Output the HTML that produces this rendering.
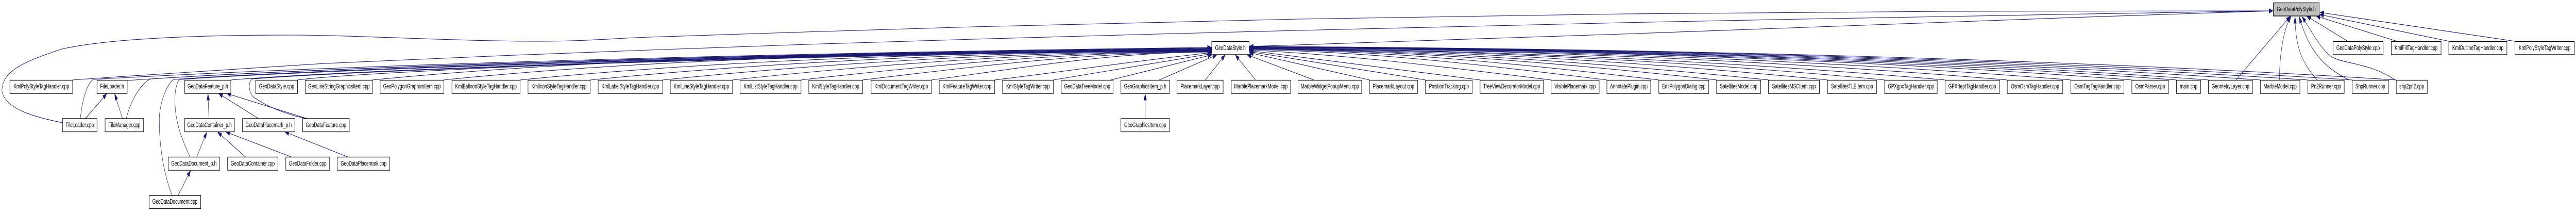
<!DOCTYPE html>
<html><head><meta charset="utf-8"><title>GeoDataPolyStyle.h include graph</title>
<style>
html,body{margin:0;padding:0;background:#fff;width:100%;height:100%;overflow:hidden}
svg{display:block;width:100vw;height:100vh}
text{font-family:"Liberation Sans",Arial,sans-serif;font-size:13.33px;text-anchor:middle;fill:#000}
</style></head><body>
<svg xmlns="http://www.w3.org/2000/svg" viewBox="0 0 7940 411" preserveAspectRatio="none">
<defs><marker id="a" viewBox="0 0 14 10" refX="13.5" refY="5" markerWidth="14" markerHeight="10" markerUnits="userSpaceOnUse" orient="auto"><path d="M0,0.2L13.5,5L0,9.8z" fill="#191970"/></marker></defs>
<g fill="none" stroke="#191970" stroke-width="1.1" style="marker-end:url(#a)">
<!-- to GeoDataPolyStyle.h, long edges -->
<path d="M192.6,238C120,228 19,215 6,177C6,140 60,122 191,95C300,80 500,68 893,68C1100,68 1400,80 1670,80C1800,80 1900,74 2000,72C2300,65 2700,58 3000,52C3400,44 3700,41 4000,37C4400,32 4700,29 5000,27C5400,24 5700,23 6000,22C6400,21 6800,21 7007,21"/>
<path d="M224,155C500,143 800,130 1000,123S1700,104 2000,97S2700,81 3000,76S3700,63 4000,59S4700,48 5000,44S5700,35 6000,32S6800,22 7007,21"/>
<path d="M3850,90C3900,89 3950,88 4000,87S4700,72 5000,66S5700,49 6000,43S6800,23 7007,21"/>
<!-- far-left to GeoDataStyle.h -->
<path d="M247.5,230C254,195 265,165 287,154C1000,128 2300,103 3735,92"/>
<path d="M392,156C1000,130 2300,104 3735,93"/>
<path d="M389,230C405,190 440,158 465,153C1000,131 2300,105 3735,94"/>
<path d="M530,379C510,345 491,295 491,233C491,195 520,158 536,154C1000,133 2300,106 3735,95"/>
<path d="M585.5,304.5C565,275 539,240 539,193C539,170 548,156 555,154C1000,135 2300,107 3735,95"/>
<path d="M712,155C1100,135 2300,108 3735,96"/>
<path d="M947,230C900,225 830,210 781,188C768,180 762,160 778,153C1100,137 2300,109 3735,97"/>
<path d="M917,155C1100,140 2300,103 3735,97"/>
<path d="M1148,155C1924,107 2830,101 3735,99"/>
<path d="M1368,155C2078,109 2906,102 3735,98"/>
<path d="M1603,155C2243,115 2989,101 3735,97"/>
<path d="M1819,155C2394,119 3064,100 3735,98"/>
<path d="M2043,155C2551,122 3143,100 3735,99"/>
<path d="M2258,155C2701,125 3218,100 3735,100"/>
<path d="M2469,155C2849,128 3292,100 3735,100"/>
<path d="M2659,155C2982,131 3358,100 3735,101"/>
<path d="M2871,155C3130,134 3433,100 3735,101"/>
<path d="M3066,155C3266,140 3500,118 3735,102"/>
<path d="M3247,155L3735,104"/>
<path d="M3424,155L3737,106"/>
<path d="M3573,155L3752,106"/>
<path d="M3715,155L3777,106"/>
<!-- right to GeoDataStyle.h -->
<path d="M3870,155L3807,106"/>
<path d="M4050,155L3843,106"/>
<path d="M4221,155L3850,102"/>
<path d="M4393.5,155L3850,100"/>
<path d="M4562,155L3850,98"/>
<path d="M4781,155C4500,134 4200,108 3850,97"/>
<path d="M4953,155C4620,130 4250,100 3850,96"/>
<path d="M5113,155C4734,127 4292,98 3850,95"/>
<path d="M5291,155C4859,125 4354,97 3850,95"/>
<path d="M5451,155C4971,124 4410,97 3850,94"/>
<path d="M5633,155C5098,122 4474,96 3850,94"/>
<path d="M5809,155C5221,120 4536,96 3850,93"/>
<path d="M5995.5,155C5352,120 4601,96 3850,93"/>
<path d="M6187,155C5486,118 4668,95 3850,92"/>
<path d="M6383,155C5623,117 4736,95 3850,92"/>
<path d="M6571,155C5755,116 4802,95 3850,91"/>
<path d="M6708.5,155C5851,116 4850,95 3850,91"/>
<path d="M6807,155C5920,114 4885,95 3850,91"/>
<path d="M6967,155C6032,115 4941,95 3850,90"/>
<path d="M7113.5,155C6134,115 4993,94 3850,90"/>
<path d="M7250,155C6230,114 5040,94 3850,90"/>
<path d="M7386,155C6325,113 5088,94 3850,90"/>
<!-- short edges -->
<path d="M263,230L330,181"/>
<path d="M377.5,230L353,181"/>
<path d="M644,230L641,181"/>
<path d="M797,230L673,181"/>
<path d="M947,230L698,181"/>
<path d="M606,304.5L638,255.5"/>
<path d="M757,304.5L670,255.5"/>
<path d="M899,304.5L695,255.5"/>
<path d="M1073,304.5L877,255.5"/>
<path d="M548.5,379L588,330"/>
<path d="M3529.8,230L3529.8,181"/>
<!-- into GeoDataPolyStyle.h from below -->
<path d="M6892,155L7060,31"/>
<path d="M7026,155C7026,110 7036,60 7062,31"/>
<path d="M7142,155C7105,128 7074,100 7074,32"/>
<path d="M7240,155C7180,135 7120,110 7087,32"/>
<path d="M7383,155C7300,120 7220,125 7182,108C7150,92 7120,55 7095,32"/>
<path d="M7236.6,80L7109,31"/>
<path d="M7388,80L7138,31"/>
<path d="M7549,80L7149,28"/>
<path d="M7752,80L7150,24"/>
</g>
<g fill="#fff" stroke="#000" stroke-width="1.33">
<rect x="7007" y="5.5" width="141.5" height="25.5" fill="#bfbfbf"/>
<rect x="3735" y="80.5" width="115" height="25.5"/>
<rect x="7191" y="80.5" width="154.6" height="25.5"/>
<rect x="7370.5" y="80.5" width="153.5" height="25.5"/>
<rect x="7548" y="80.5" width="179" height="25.5"/>
<rect x="7752" y="80.5" width="183" height="25.5"/>
<rect x="30.6" y="155.5" width="193.3" height="25.5"/>
<rect x="299" y="155.5" width="93" height="25.5"/>
<rect x="569.5" y="155.5" width="142" height="25.5"/>
<rect x="788" y="155.5" width="129" height="25.5"/>
<rect x="941" y="155.5" width="207" height="25.5"/>
<rect x="1171.6" y="155.5" width="196.4" height="25.5"/>
<rect x="1393" y="155.5" width="210" height="25.5"/>
<rect x="1627.5" y="155.5" width="191.5" height="25.5"/>
<rect x="1843.7" y="155.5" width="199.3" height="25.5"/>
<rect x="2066" y="155.5" width="192" height="25.5"/>
<rect x="2281" y="155.5" width="188" height="25.5"/>
<rect x="2493" y="155.5" width="166" height="25.5"/>
<rect x="2685" y="155.5" width="186" height="25.5"/>
<rect x="2895" y="155.5" width="171" height="25.5"/>
<rect x="3090" y="155.5" width="157" height="25.5"/>
<rect x="3271" y="155.5" width="160" height="25.5"/>
<rect x="3455" y="155.5" width="149.6" height="25.5"/>
<rect x="3628" y="155.5" width="142" height="25.5"/>
<rect x="3795" y="155.5" width="183" height="25.5"/>
<rect x="4001" y="155.5" width="196" height="25.5"/>
<rect x="4221" y="155.5" width="148" height="25.5"/>
<rect x="4393.5" y="155.5" width="144.5" height="25.5"/>
<rect x="4562" y="155.5" width="195" height="25.5"/>
<rect x="4781" y="155.5" width="148" height="25.5"/>
<rect x="4953" y="155.5" width="135" height="25.5"/>
<rect x="5113" y="155.5" width="154" height="25.5"/>
<rect x="5291" y="155.5" width="136" height="25.5"/>
<rect x="5451" y="155.5" width="157" height="25.5"/>
<rect x="5633" y="155.5" width="151" height="25.5"/>
<rect x="5809" y="155.5" width="162" height="25.5"/>
<rect x="5995.5" y="155.5" width="167.5" height="25.5"/>
<rect x="6187" y="155.5" width="171" height="25.5"/>
<rect x="6383" y="155.5" width="163.6" height="25.5"/>
<rect x="6571" y="155.5" width="113" height="25.5"/>
<rect x="6708.5" y="155.5" width="74.5" height="25.5"/>
<rect x="6807" y="155.5" width="136" height="25.5"/>
<rect x="6967" y="155.5" width="122" height="25.5"/>
<rect x="7113.5" y="155.5" width="112" height="25.5"/>
<rect x="7250" y="155.5" width="112" height="25.5"/>
<rect x="7386" y="155.5" width="95.5" height="25.5"/>
<rect x="192.6" y="230" width="106.4" height="25.5"/>
<rect x="324" y="230" width="118.6" height="25.5"/>
<rect x="569" y="230" width="153.6" height="25.5"/>
<rect x="747.4" y="230" width="161.4" height="25.5"/>
<rect x="933" y="230" width="143.5" height="25.5"/>
<rect x="3455" y="230" width="149.6" height="25.5"/>
<rect x="518.5" y="304.5" width="158.5" height="25.5"/>
<rect x="701.5" y="304.5" width="155" height="25.5"/>
<rect x="881" y="304.5" width="135" height="25.5"/>
<rect x="1039.5" y="304.5" width="162" height="25.5"/>
<rect x="460" y="379" width="158.6" height="25.5"/>
</g>
<g>
<text x="7077.7" y="22">GeoDataPolyStyle.h</text>
<text x="3792.5" y="97">GeoDataStyle.h</text>
<text x="7268.3" y="97">GeoDataPolyStyle.cpp</text>
<text x="7447.2" y="97">KmlFillTagHandler.cpp</text>
<text x="7637.5" y="97">KmlOutlineTagHandler.cpp</text>
<text x="7843.5" y="97">KmlPolyStyleTagWriter.cpp</text>
<text x="127.3" y="171.5">KmlPolyStyleTagHandler.cpp</text>
<text x="345.5" y="171.5">FileLoader.h</text>
<text x="640.5" y="171.5">GeoDataFeature_p.h</text>
<text x="852.5" y="171.5">GeoDataStyle.cpp</text>
<text x="1044.5" y="171.5">GeoLineStringGraphicsItem.cpp</text>
<text x="1269.8" y="171.5">GeoPolygonGraphicsItem.cpp</text>
<text x="1498" y="171.5">KmlBalloonStyleTagHandler.cpp</text>
<text x="1723" y="171.5">KmlIconStyleTagHandler.cpp</text>
<text x="1943" y="171.5">KmlLabelStyleTagHandler.cpp</text>
<text x="2162" y="171.5">KmlLineStyleTagHandler.cpp</text>
<text x="2375" y="171.5">KmlListStyleTagHandler.cpp</text>
<text x="2576" y="171.5">KmlStyleTagHandler.cpp</text>
<text x="2778" y="171.5">KmlDocumentTagWriter.cpp</text>
<text x="2980.5" y="171.5">KmlFeatureTagWriter.cpp</text>
<text x="3168.5" y="171.5">KmlStyleTagWriter.cpp</text>
<text x="3351" y="171.5">GeoDataTreeModel.cpp</text>
<text x="3529.8" y="171.5">GeoGraphicsItem_p.h</text>
<text x="3699" y="171.5">PlacemarkLayer.cpp</text>
<text x="3886.5" y="171.5">MarblePlacemarkModel.cpp</text>
<text x="4099" y="171.5">MarbleWidgetPopupMenu.cpp</text>
<text x="4295" y="171.5">PlacemarkLayout.cpp</text>
<text x="4466" y="171.5">PositionTracking.cpp</text>
<text x="4659.5" y="171.5">TreeViewDecoratorModel.cpp</text>
<text x="4855" y="171.5">VisiblePlacemark.cpp</text>
<text x="5020.5" y="171.5">AnnotatePlugin.cpp</text>
<text x="5190" y="171.5">EditPolygonDialog.cpp</text>
<text x="5359" y="171.5">SatellitesModel.cpp</text>
<text x="5529.5" y="171.5">SatellitesMSCItem.cpp</text>
<text x="5708.5" y="171.5">SatellitesTLEItem.cpp</text>
<text x="5890" y="171.5">GPXgpxTagHandler.cpp</text>
<text x="6079" y="171.5">GPXrteptTagHandler.cpp</text>
<text x="6272.5" y="171.5">OsmOsmTagHandler.cpp</text>
<text x="6465" y="171.5">OsmTagTagHandler.cpp</text>
<text x="6627.5" y="171.5">OsmParser.cpp</text>
<text x="6746" y="171.5">main.cpp</text>
<text x="6875" y="171.5">GeometryLayer.cpp</text>
<text x="7028" y="171.5">MarbleModel.cpp</text>
<text x="7169.5" y="171.5">Pn2Runner.cpp</text>
<text x="7306" y="171.5">ShpRunner.cpp</text>
<text x="7433.7" y="171.5">shp2pn2.cpp</text>
<text x="245.8" y="246.5">FileLoader.cpp</text>
<text x="383.3" y="246.5">FileManager.cpp</text>
<text x="645.8" y="246.5">GeoDataContainer_p.h</text>
<text x="828" y="246.5">GeoDataPlacemark_p.h</text>
<text x="1004.7" y="246.5">GeoDataFeature.cpp</text>
<text x="3529.8" y="246.5">GeoGraphicsItem.cpp</text>
<text x="597.7" y="321">GeoDataDocument_p.h</text>
<text x="779" y="321">GeoDataContainer.cpp</text>
<text x="948.5" y="321">GeoDataFolder.cpp</text>
<text x="1120.5" y="321">GeoDataPlacemark.cpp</text>
<text x="539.3" y="395">GeoDataDocument.cpp</text>
</g>
</svg>
</body></html>
